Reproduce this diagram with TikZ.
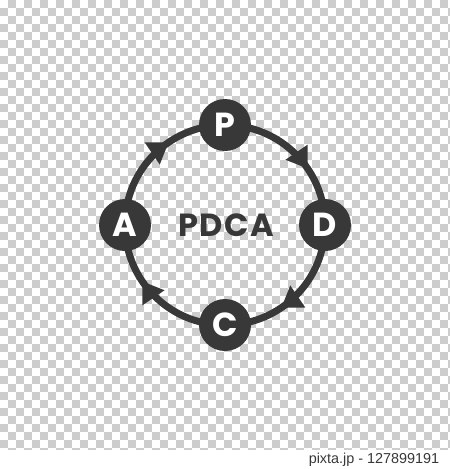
\documentclass[tikz,border=0pt]{standalone}
\usepackage{fontspec}
\setmainfont{Liberation Sans}
\newfontfamily\pdcafont{Poppins}
\newfontfamily\pdcawide{Poppins}[LetterSpace=5]
\usetikzlibrary{arrows.meta,decorations.markings}
\definecolor{ink}{HTML}{383838}
\definecolor{board}{HTML}{CDCDCD}
\pgfdeclarelayer{board}
\pgfdeclarelayer{ring}
\pgfsetlayers{board,ring,main}
\tikzset{
  stage/.style={circle, fill=ink, minimum size=39pt, inner sep=0pt,
    text=white, font=\pdcafont\bfseries\fontsize{25}{25}\selectfont},
  title/.style={text=ink, font=\pdcawide\bfseries\fontsize{24}{24}\selectfont},
  ring/.style={draw=ink, line width=5.25pt,
    decoration={markings, mark=at position 0.62 with {\arrow{Triangle[width=19pt,length=15pt]}}},
    postaction={decorate}},
}
\begin{document}
\begin{tikzpicture}[x=0.75pt,y=-0.75pt]
\useasboundingbox (0,0) rectangle (450,469);

 % checker board
\begin{pgfonlayer}{board}
\fill[white] (0,0) rectangle (450,469);
\begin{scope}
\clip (0,0) rectangle (450,449);
\foreach \i in {0,...,56}
  \foreach \j in {0,2,...,56}
    \fill[board] ({\i*8},{(\j+mod(\i+1,2))*8}) rectangle +(8,8);
\end{scope}
\end{pgfonlayer}

 % stages
\node[stage] (P) at (225,125) {P};
\node[stage] (D) at (325,225) {D};
\node[stage] (C) at (225,325) {C};
\node[stage] (A) at (125,225) {A};
\node[title] (T) at (226,225) {PDCA};

 % cycle
\begin{pgfonlayer}{ring}
\draw[ring] (P.center) to[bend left=45] (D.center);
\draw[ring] (D.center) to[bend left=45] (C.center);
\draw[ring] (C.center) to[bend left=45] (A.center);
\draw[ring] (A.center) to[bend left=45] (P.center);
\end{pgfonlayer}

\node[anchor=base east, text=ink, font=\fontsize{10.8}{10.8}\selectfont] (W) at (444,463) {pixta.jp - 127899191};
\end{tikzpicture}
\end{document}
